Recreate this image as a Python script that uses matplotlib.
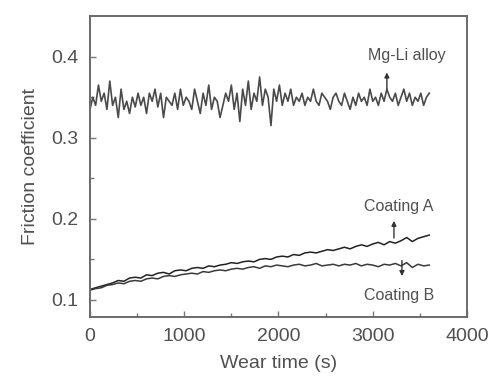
import numpy as np
import matplotlib
matplotlib.use("Agg")
import matplotlib.pyplot as plt

plt.rcParams['font.family'] = ['Liberation Sans', 'DejaVu Sans']

# Mg-Li alloy friction coefficient (sampled every ~30 s, 0..3600 s)
mg_li = [0.335, 0.35, 0.34, 0.365, 0.345, 0.355, 0.335, 0.37, 0.34, 0.35, 0.325, 0.36, 0.335, 0.345,
         0.33, 0.35, 0.338, 0.355, 0.34, 0.35, 0.33, 0.355, 0.345, 0.36, 0.338, 0.355, 0.325, 0.35,
         0.345, 0.34, 0.355, 0.335, 0.36, 0.34, 0.35, 0.345, 0.335, 0.36, 0.345, 0.33, 0.355, 0.34,
         0.365, 0.335, 0.35, 0.345, 0.325, 0.34, 0.355, 0.345, 0.365, 0.335, 0.355, 0.32, 0.36, 0.34,
         0.37, 0.335, 0.355, 0.345, 0.375, 0.34, 0.36, 0.35, 0.315, 0.36, 0.345, 0.365, 0.34, 0.355,
         0.345, 0.36, 0.34, 0.35, 0.345, 0.355, 0.34, 0.35, 0.345, 0.36, 0.345, 0.34, 0.355, 0.35,
         0.345, 0.335, 0.35, 0.355, 0.345, 0.34, 0.355, 0.345, 0.335, 0.35, 0.34, 0.355, 0.345, 0.35,
         0.34, 0.36, 0.345, 0.35, 0.34, 0.355, 0.345, 0.36, 0.35, 0.345, 0.355, 0.34, 0.35, 0.36,
         0.345, 0.355, 0.34, 0.35, 0.345, 0.355, 0.34, 0.35, 0.355]

# Coating A (sampled every ~60 s)
coating_a = [0.113, 0.115, 0.117, 0.119, 0.121, 0.124, 0.123, 0.127, 0.128, 0.127, 0.131, 0.130,
             0.133, 0.134, 0.132, 0.136, 0.137, 0.136, 0.139, 0.140, 0.139, 0.142, 0.141, 0.143,
             0.144, 0.146, 0.145, 0.147, 0.148, 0.147, 0.150, 0.151, 0.150, 0.153, 0.154, 0.153,
             0.156, 0.155, 0.158, 0.159, 0.158, 0.160, 0.162, 0.161, 0.163, 0.165, 0.163, 0.166,
             0.168, 0.166, 0.169, 0.171, 0.168, 0.172, 0.170, 0.173, 0.177, 0.172, 0.176, 0.178,
             0.180]

# Coating B (sampled every ~60 s)
coating_b = [0.112, 0.114, 0.115, 0.118, 0.119, 0.121, 0.120, 0.123, 0.124, 0.123, 0.126, 0.127,
             0.126, 0.129, 0.130, 0.129, 0.131, 0.132, 0.133, 0.132, 0.135, 0.134, 0.136, 0.137,
             0.136, 0.138, 0.139, 0.138, 0.140, 0.141, 0.139, 0.142, 0.141, 0.143, 0.142, 0.141,
             0.143, 0.144, 0.142, 0.143, 0.145, 0.142, 0.143, 0.144, 0.142, 0.144, 0.143, 0.145,
             0.142, 0.144, 0.143, 0.141, 0.144, 0.143, 0.145, 0.142, 0.146, 0.140, 0.144, 0.142,
             0.143]

t_end = 3600
t_mg = np.linspace(0, t_end, len(mg_li))
t_a = np.linspace(0, t_end, len(coating_a))
t_b = np.linspace(0, t_end, len(coating_b))

fig = plt.figure(figsize=(4.89, 3.76), dpi=100)
ax = fig.add_axes([0.184, 0.157, 0.771, 0.80])

ax.plot(t_mg, mg_li, color='#4a4a4a', lw=1.2)
ax.plot(t_a, coating_a, color='#222222', lw=1.1)
ax.plot(t_b, coating_b, color='#3a3a3a', lw=1.1)

ax.set_xlim(0, 4000)
ax.set_ylim(0.079, 0.45)
ax.set_xticks([0, 1000, 2000, 3000, 4000])
ax.set_xticks([500, 1500, 2500, 3500], minor=True)
ax.set_yticks([0.1, 0.2, 0.3, 0.4])
ax.set_yticks([0.15, 0.25, 0.35], minor=True)
ax.set_yticklabels(['0.1', '0.2', '0.3', '0.4'])

tc = '#505050'
ax.tick_params(which='both', direction='in', colors='#777777', labelcolor=tc, labelsize=14, width=1.0)
ax.tick_params(which='major', length=4, pad=8)
ax.tick_params(which='minor', length=3)
for s in ax.spines.values():
    s.set_color('#6a6a6a')
    s.set_linewidth(1.4)

ax.set_xlabel('Wear time (s)', fontsize=14, color=tc, labelpad=7)
ax.set_ylabel('Friction coefficient', fontsize=14, color=tc, labelpad=9)

ax.text(2950, 0.402, 'Mg-Li alloy', fontsize=11.5, color=tc, va='center', ha='left')
ax.annotate('', xy=(3150, 0.384), xytext=(3150, 0.357),
            arrowprops=dict(arrowstyle='-|>', color='#333333', lw=1.0, mutation_scale=7))
ax.text(2910, 0.215, 'Coating A', fontsize=11.5, color=tc, va='center', ha='left')
ax.annotate('', xy=(3225, 0.201), xytext=(3225, 0.173),
            arrowprops=dict(arrowstyle='-|>', color='#333333', lw=1.0, mutation_scale=7))
ax.text(2910, 0.1055, 'Coating B', fontsize=11.5, color=tc, va='center', ha='left')
ax.annotate('', xy=(3310, 0.126), xytext=(3310, 0.152),
            arrowprops=dict(arrowstyle='-|>', color='#333333', lw=1.0, mutation_scale=7))

fig.savefig('out.png', dpi=100)
